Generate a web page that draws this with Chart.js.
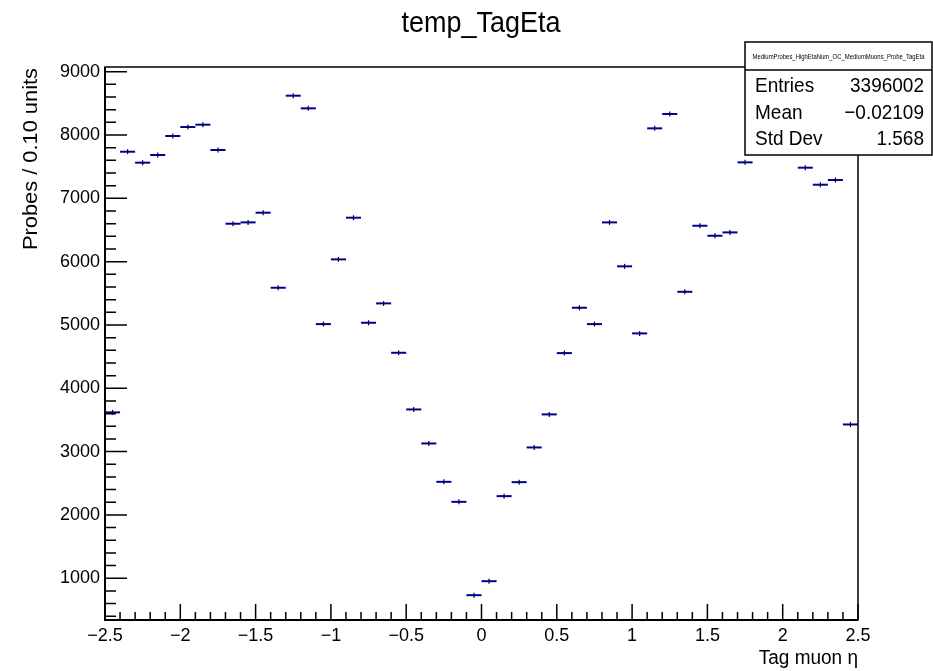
<!DOCTYPE html>
<html>
<head>
<meta charset="utf-8">
<title>temp_TagEta</title>
<script src="https://cdn.jsdelivr.net/npm/chart.js@4.4.1/dist/chart.umd.min.js"></script>
<style>
  html, body { margin: 0; padding: 0; background: #fff; }
  #wrap { width: 933px; height: 671px; }
</style>
</head>
<body>
<div id="wrap"><canvas id="c" width="933" height="671"></canvas></div>
<script>
// tag muon eta histogram, 50 bins of 0.1
const binCenters = [-2.45, -2.35, -2.25, -2.15, -2.05, -1.95, -1.85, -1.75, -1.65, -1.55,
                    -1.45, -1.35, -1.25, -1.15, -1.05, -0.95, -0.85, -0.75, -0.65, -0.55,
                    -0.45, -0.35, -0.25, -0.15, -0.05, 0.05, 0.15, 0.25, 0.35, 0.45,
                    0.55, 0.65, 0.75, 0.85, 0.95, 1.05, 1.15, 1.25, 1.35, 1.45,
                    1.55, 1.65, 1.75, 1.85, 1.95, 2.05, 2.15, 2.25, 2.35, 2.45];
const counts = [3620, 7736, 7563, 7684, 7984, 8126, 8163, 7763, 6599, 6620,
                6773, 5588, 8621, 8421, 5014, 6036, 6694, 5035, 5341, 4561,
                3666, 3129, 2523, 2207, 733, 954, 2297, 2518, 3066, 3588,
                4556, 5272, 5014, 6620, 5926, 4867, 8105, 8332, 5524, 6567,
                6409, 6462, 7568, 8300, 8670, 8200, 7484, 7215, 7289, 3429];
const binWidth = 0.1;
const xTicks = [-2.5, -2, -1.5, -1, -0.5, 0, 0.5, 1, 1.5, 2, 2.5];
const yTicks = [1000, 2000, 3000, 4000, 5000, 6000, 7000, 8000, 9000];
const xMinor = [-2.4, -2.3, -2.2, -2.1, -1.9, -1.8, -1.7, -1.6, -1.4, -1.3, -1.2, -1.1,
                -0.9, -0.8, -0.7, -0.6, -0.4, -0.3, -0.2, -0.1, 0.1, 0.2, 0.3, 0.4,
                0.6, 0.7, 0.8, 0.9, 1.1, 1.2, 1.3, 1.4, 1.6, 1.7, 1.8, 1.9,
                2.1, 2.2, 2.3, 2.4];
const yMinor = [400, 600, 800, 1200, 1400, 1600, 1800, 2200, 2400, 2600, 2800,
                3200, 3400, 3600, 3800, 4200, 4400, 4600, 4800, 5200, 5400, 5600, 5800,
                6200, 6400, 6600, 6800, 7200, 7400, 7600, 7800, 8200, 8400, 8600, 8800];
const statsName = 'MediumProbes_HighEtaNum_OC_MediumMuons_Probe_TagEta';
const statsRows = [['Entries', '3396002'], ['Mean', '\u22120.02109'], ['Std Dev', '1.568']];

const FONT = '"Liberation Sans", Arial, Helvetica, sans-serif';
const MARK = '#00008f';

const fmt = v => String(v).replace('-', '\u2212');

// text slightly stretched vertically, like the ROOT export
function tallText(ctx, txt, x, y, sy) {
    ctx.save();
    ctx.translate(x, y);
    ctx.scale(1, sy);
    ctx.fillText(txt, 0, 0);
    ctx.restore();
}

const rootPlugin = {
    id: 'rootStyle',
    afterDatasetsDraw(chart) {
        const ctx = chart.ctx;
        const xs = chart.scales.x, ys = chart.scales.y;
        ctx.save();
        binCenters.forEach((c, i) => {
            const y = ys.getPixelForValue(counts[i]);
            const x0 = xs.getPixelForValue(c - binWidth / 2);
            const x1 = xs.getPixelForValue(c + binWidth / 2);
            const xc = xs.getPixelForValue(c);
            ctx.strokeStyle = MARK;
            ctx.lineWidth = 2;
            ctx.beginPath();
            ctx.moveTo(x0, y); ctx.lineTo(x1, y);
            ctx.stroke();
            ctx.lineWidth = 1.2;
            ctx.strokeStyle = '#000040';
            ctx.beginPath();
            ctx.moveTo(xc, y - 2.5); ctx.lineTo(xc, y + 2.5);
            ctx.stroke();
        });
        ctx.restore();
    },
    afterDraw(chart) {
        const ctx = chart.ctx;
        const a = chart.chartArea;
        const xs = chart.scales.x, ys = chart.scales.y;
        ctx.save();
        ctx.strokeStyle = '#000';
        // frame
        ctx.lineWidth = 1.5;
        ctx.strokeRect(a.left, a.top, a.right - a.left, a.bottom - a.top);
        ctx.lineWidth = 2;
        ctx.beginPath();
        ctx.moveTo(a.left, a.top); ctx.lineTo(a.left, a.bottom); ctx.lineTo(a.right, a.bottom);
        ctx.stroke();
        // ticks, inward
        ctx.lineWidth = 1.5;
        ctx.beginPath();
        xTicks.forEach(v => { const x = xs.getPixelForValue(v); ctx.moveTo(x, a.bottom); ctx.lineTo(x, a.bottom - 16); });
        xMinor.forEach(v => { const x = xs.getPixelForValue(v); ctx.moveTo(x, a.bottom); ctx.lineTo(x, a.bottom - 8); });
        yTicks.forEach(v => { const y = ys.getPixelForValue(v); ctx.moveTo(a.left, y); ctx.lineTo(a.left + 22, y); });
        yMinor.forEach(v => { const y = ys.getPixelForValue(v); ctx.moveTo(a.left, y); ctx.lineTo(a.left + 11, y); });
        ctx.stroke();

        ctx.fillStyle = '#000';
        // main title
        ctx.font = '27px ' + FONT;
        ctx.textAlign = 'center';
        ctx.textBaseline = 'alphabetic';
        tallText(ctx, 'temp_TagEta', 481, 32, 1.08);
        // x title
        ctx.font = '19px ' + FONT;
        ctx.textAlign = 'right';
        tallText(ctx, 'Tag muon \u03b7', a.right, 664, 1.05);
        // y title
        ctx.save();
        ctx.translate(37, a.top + 1);
        ctx.rotate(-Math.PI / 2);
        ctx.font = '21px ' + FONT;
        ctx.textAlign = 'right';
        ctx.scale(1.04, 1);
        ctx.fillText('Probes / 0.10 units', 0, 0);
        ctx.restore();

        // stats box
        const bx = 745, by = 42, bw = 187, bh = 113;
        ctx.fillStyle = '#fff';
        ctx.fillRect(bx, by, bw, bh);
        ctx.lineWidth = 1.5;
        ctx.strokeRect(bx, by, bw, bh);
        ctx.beginPath();
        ctx.moveTo(bx, 70); ctx.lineTo(bx + bw, 70);
        ctx.stroke();
        ctx.fillStyle = '#000';
        ctx.font = '7px ' + FONT;
        ctx.textAlign = 'center';
        ctx.textBaseline = 'middle';
        const nw = ctx.measureText(statsName).width;
        ctx.save();
        ctx.translate(bx + bw / 2, 57);
        ctx.scale(Math.min(1, 172 / nw), 1);
        ctx.fillText(statsName, 0, 0);
        ctx.restore();
        ctx.font = '19px ' + FONT;
        ctx.textBaseline = 'alphabetic';
        const rowY = [92, 119, 145];
        statsRows.forEach((r, i) => {
            ctx.textAlign = 'left';
            tallText(ctx, r[0], 755, rowY[i], 1.1);
            ctx.textAlign = 'right';
            tallText(ctx, r[1], 924, rowY[i], 1.1);
        });
        ctx.restore();
    }
};

new Chart(document.getElementById('c'), {
    type: 'scatter',
    data: {
        datasets: [{
            label: 'temp_TagEta',
            data: binCenters.map((c, i) => ({ x: c, y: counts[i] })),
            pointRadius: 0,
            pointHoverRadius: 0,
            showLine: false
        }]
    },
    options: {
        responsive: false,
        animation: false,
        devicePixelRatio: 1,
        layout: { padding: { top: 67, right: 75, left: 0, bottom: 0 } },
        plugins: { legend: { display: false }, tooltip: { enabled: false }, title: { display: false } },
        scales: {
            x: {
                type: 'linear',
                min: -2.5, max: 2.5,
                grid: { display: false, drawTicks: false },
                border: { display: false },
                afterBuildTicks: s => { s.ticks = xTicks.map(v => ({ value: v })); },
                afterFit: s => { s.height = 51; },
                ticks: {
                    autoSkip: false,
                    maxRotation: 0,
                    padding: 5,
                    color: '#000',
                    font: { family: FONT, size: 18 },
                    callback: v => fmt(v)
                }
            },
            y: {
                type: 'linear',
                min: 341, max: 9074,
                grid: { display: false, drawTicks: false },
                border: { display: false },
                afterBuildTicks: s => { s.ticks = yTicks.map(v => ({ value: v })); },
                afterFit: s => { s.width = 105; },
                ticks: {
                    autoSkip: false,
                    padding: 5,
                    color: '#000',
                    font: { family: FONT, size: 18 },
                    callback: v => fmt(v)
                }
            }
        }
    },
    plugins: [rootPlugin]
});
</script>
</body>
</html>
